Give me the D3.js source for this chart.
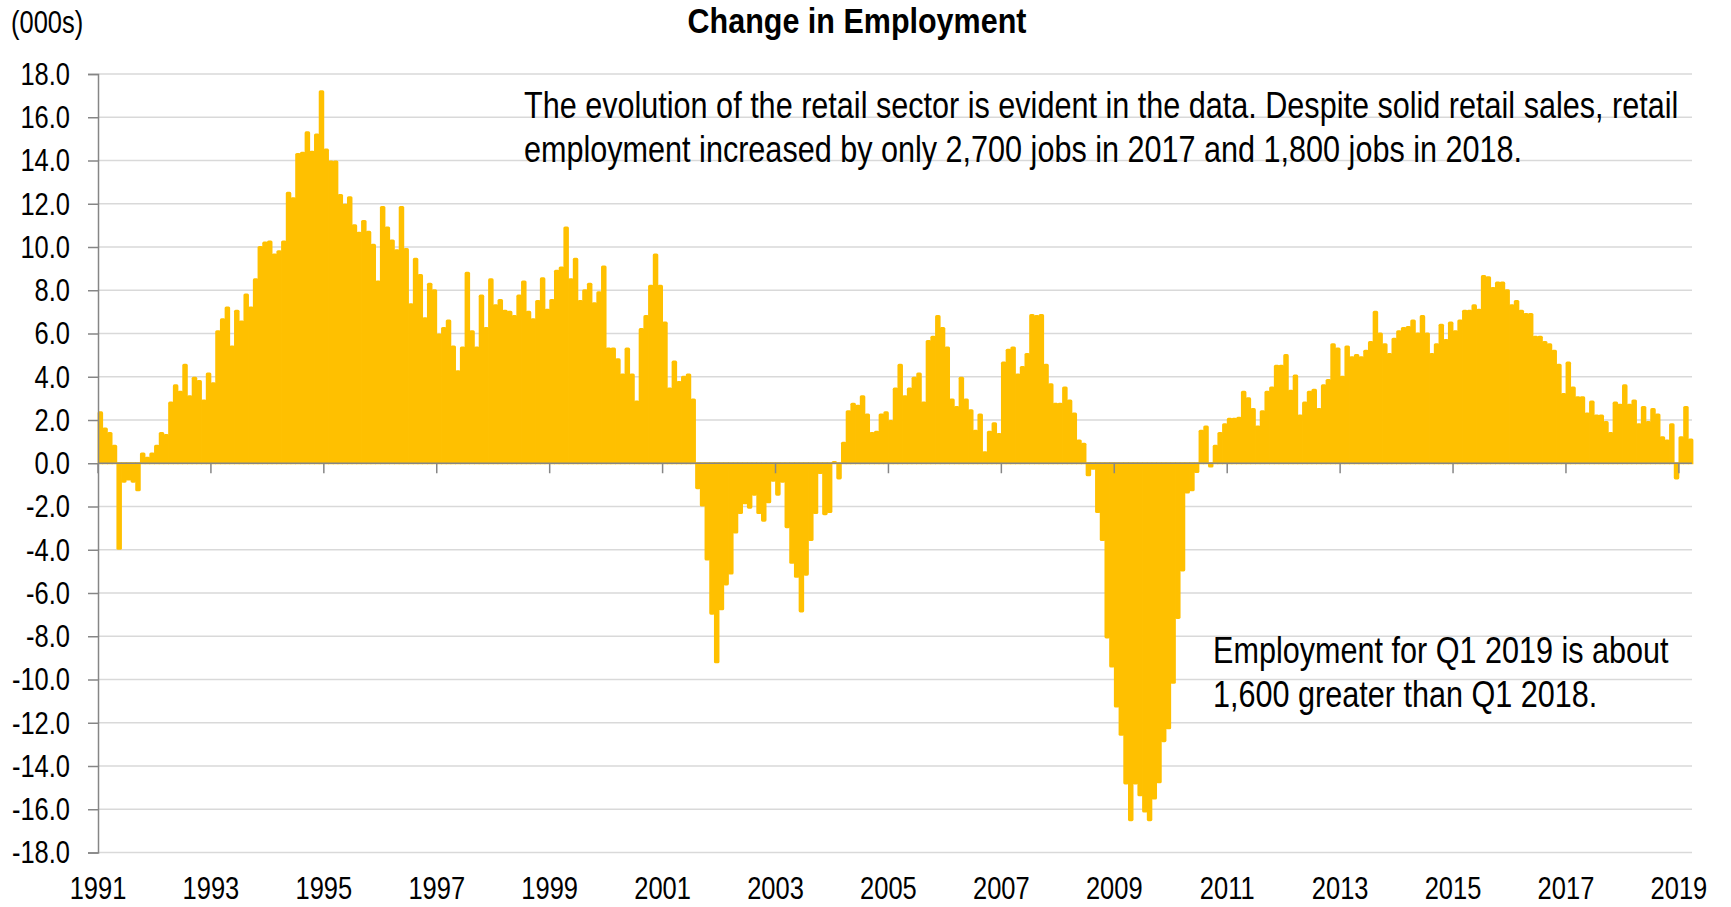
<!DOCTYPE html>
<html>
<head>
<meta charset="utf-8">
<script src="https://cdn.jsdelivr.net/npm/d3@7"></script>
<style>
  html, body { margin: 0; padding: 0; background: #ffffff; }
  svg { display: block; font-family: "Liberation Sans", Arial, Helvetica, sans-serif; }
</style>
</head>
<body>
<svg id="chart" width="1731" height="907"></svg>
<script>
// Monthly change in retail employment (thousands), Jan 1991 - Mar 2019
const change1991to1994 = [
  2.4, 1.65, 1.45, 0.85, -4.0, -0.9, -0.8, -0.9, -1.3, 0.5, 0.3, 0.5,
  0.85, 1.45, 1.35, 2.85, 3.65, 3.35, 4.6, 3.15, 4.0, 3.85, 2.95, 4.2,
  3.75, 6.15, 6.7, 7.25, 5.45, 7.1, 6.6, 7.85, 7.25, 8.55, 10.05, 10.25,
  10.3, 9.7, 9.85, 10.3, 12.55, 12.3, 14.35, 14.4, 15.35, 14.45, 15.25, 17.25
];
const change1995to1998 = [
  14.55, 14.0, 14.0, 12.45, 12.0, 12.35, 11.05, 10.7, 11.25, 10.75, 10.15, 8.45,
  11.9, 10.95, 10.35, 9.9, 11.9, 9.95, 7.4, 9.5, 8.75, 6.75, 8.35, 8.05,
  6.0, 6.3, 6.65, 5.45, 4.3, 5.4, 8.85, 6.15, 5.4, 7.8, 6.3, 8.55,
  7.35, 7.6, 7.1, 7.05, 6.85, 7.8, 8.45, 7.05, 6.7, 7.55, 8.6, 7.15
];
const change1999to2002 = [
  7.6, 8.95, 9.1, 10.95, 8.55, 9.5, 7.55, 8.05, 8.35, 7.45, 7.95, 9.15,
  5.35, 5.35, 4.85, 4.15, 5.35, 4.15, 2.9, 6.25, 6.85, 8.25, 9.7, 8.25,
  6.55, 3.5, 4.75, 3.8, 4.05, 4.15, 3.0, -1.2, -2.0, -4.5, -7.0, -9.25,
  -6.8, -5.65, -5.15, -3.25, -2.35, -1.9, -2.1, -1.5, -2.35, -2.7, -1.85, -0.85
];
const change2003to2006 = [
  -1.5, -0.9, -3.0, -4.65, -5.3, -6.9, -5.2, -3.6, -2.35, -0.5, -2.4, -2.3,
  0.1, -0.75, 1.0, 2.45, 2.8, 2.7, 3.15, 2.3, 1.45, 1.5, 2.3, 2.4,
  2.0, 3.5, 4.6, 3.15, 3.5, 4.0, 4.2, 2.85, 5.7, 5.9, 6.85, 6.3,
  5.4, 3.0, 2.65, 4.0, 3.0, 2.5, 1.55, 2.3, 0.55, 1.5, 1.9, 1.4
];
const change2007to2010 = [
  4.7, 5.3, 5.4, 4.15, 4.5, 5.1, 6.9, 6.85, 6.9, 4.6, 3.7, 2.8,
  2.8, 3.55, 2.95, 2.35, 1.1, 0.95, -0.6, -0.3, -2.3, -3.6, -8.1, -9.45,
  -11.3, -12.6, -14.85, -16.55, -14.85, -15.4, -16.15, -16.55, -15.55, -14.8, -12.9, -12.3,
  -10.2, -7.2, -5.0, -1.4, -1.3, -0.45, 1.55, 1.75, -0.2, 0.85, 1.45, 1.85
];
const change2011to2014 = [
  2.1, 2.1, 2.15, 3.35, 3.05, 2.55, 1.75, 2.45, 3.35, 3.55, 4.55, 4.55,
  5.05, 3.4, 4.1, 2.25, 2.85, 3.35, 3.45, 2.55, 3.65, 3.9, 5.55, 5.35,
  4.05, 5.45, 4.95, 5.05, 4.95, 5.25, 5.65, 7.05, 6.05, 5.55, 5.1, 5.8,
  6.15, 6.3, 6.35, 6.65, 6.05, 6.85, 6.05, 5.1, 5.55, 6.45, 5.75, 6.55
];
const change2015to2019 = [
  6.15, 6.65, 7.1, 7.1, 7.35, 7.15, 8.7, 8.65, 8.15, 8.4, 8.4, 8.05,
  7.35, 7.55, 7.1, 6.95, 6.95, 5.9, 5.9, 5.65, 5.55, 5.25, 4.6, 3.25,
  4.7, 3.55, 3.1, 3.1, 2.35, 2.9, 2.25, 2.25, 1.95, 1.45, 2.85, 2.75,
  3.65, 2.75, 2.95, 1.85, 2.65, 1.95, 2.55, 2.3, 1.25, 1.1, 1.85, -0.75,
  1.25, 2.65, 1.15
];

// Axis labels
const yearLabels = ["1991", "1993", "1995", "1997", "1999", "2001", "2003", "2005",
                    "2007", "2009", "2011", "2013", "2015", "2017", "2019"];
const valueTicks = [-18, -16, -14, -12, -10, -8, -6, -4, -2, 0, 2, 4, 6, 8, 10, 12, 14, 16, 18];

// Text
const chartTitle = "Change in Employment";
const unitLabel = "(000s)";
const noteTop = [
  "The evolution of the retail sector is evident in the data. Despite solid retail sales, retail",
  "employment increased by only 2,700 jobs in 2017 and 1,800 jobs in 2018."
];
const noteBottom = [
  "Employment for Q1 2019 is about",
  "1,600 greater than Q1 2018."
];

const monthly = [].concat(change1991to1994, change1995to1998, change1999to2002,
  change2003to2006, change2007to2010, change2011to2014, change2015to2019);

const svg = d3.select("#chart");
const plotLeft = 98, plotRight = 1693, plotTop = 74, plotBottom = 852.5;
const barColor = "#FFC000";
const gridColor = "#d9d9d9";
const axisColor = "#868686";
const stretch = 1.2;   // condensed face: glyphs taller than they are wide

const x = d3.scaleLinear().domain([0, monthly.length]).range([plotLeft, plotRight]);
const y = d3.scaleLinear().domain([-18, 18]).range([plotBottom, plotTop]);

// Places a text with its baseline at (tx, ty), stretched vertically
function label(sel, tx, ty, k = stretch) {
  return sel.attr("transform", `translate(${tx},${ty}) scale(1,${k})`);
}

// Horizontal gridlines
svg.append("g")
  .selectAll("line")
  .data(valueTicks)
  .join("line")
  .attr("x1", plotLeft).attr("x2", plotRight - 1)
  .attr("y1", d => y(d)).attr("y2", d => y(d))
  .attr("stroke", gridColor)
  .attr("stroke-width", 1.5);

// Monthly bars, slightly rounded at the value end, overlapping a hair to avoid seams
const r = 1.6, ov = 0.4;
function barPath(d, i) {
  const x0 = x(i) - ov, x1 = x(i + 1) + ov;
  const y0 = y(0) + (d >= 0 ? 1 : -1), yv = y(d);
  const s = d >= 0 ? 1 : -1;
  const rr = Math.min(r, Math.abs(yv - y0) / 2);
  return `M${x0},${y0} L${x0},${yv + s * rr} Q${x0},${yv} ${x0 + rr},${yv} ` +
         `L${x1 - rr},${yv} Q${x1},${yv} ${x1},${yv + s * rr} L${x1},${y0} Z`;
}
svg.append("g")
  .selectAll("path")
  .data(monthly)
  .join("path")
  .attr("d", barPath)
  .attr("fill", barColor);

// Value axis line and ticks
const yAxis = d3.axisLeft(y)
  .tickValues(valueTicks)
  .tickFormat("")
  .tickSize(10);
const yg = svg.append("g")
  .attr("transform", `translate(${plotLeft},0)`)
  .call(yAxis);
yg.select(".domain").attr("stroke", axisColor).attr("stroke-width", 1.5);
yg.selectAll(".tick line").attr("stroke", axisColor).attr("stroke-width", 1.5);

// Value tick labels
const tickSize = 25.5;
svg.append("g")
  .selectAll("text")
  .data(valueTicks)
  .join("text")
  .each(function (d) {
    label(d3.select(this), 70, y(d) + 0.716 * tickSize * stretch / 2);
  })
  .attr("text-anchor", "end")
  .attr("font-size", tickSize)
  .attr("fill", "#000")
  .text(d => d.toFixed(1));

// Category axis along zero with year ticks every two years
const yearIndex = yearLabels.map((lab, k) => k * 24);
svg.append("line")
  .attr("x1", plotLeft).attr("x2", plotRight - 1)
  .attr("y1", y(0)).attr("y2", y(0))
  .attr("stroke", axisColor).attr("stroke-width", 1.5);
svg.append("g")
  .selectAll("line")
  .data(yearIndex)
  .join("line")
  .attr("x1", d => x(d)).attr("x2", d => x(d))
  .attr("y1", y(0)).attr("y2", y(0) + 10)
  .attr("stroke", axisColor).attr("stroke-width", 1.5);

// Year labels below the plot
svg.append("g")
  .selectAll("text")
  .data(yearLabels)
  .join("text")
  .each(function (d, k) { label(d3.select(this), x(yearIndex[k]), 899); })
  .attr("text-anchor", "middle")
  .attr("font-size", tickSize)
  .attr("fill", "#000")
  .text(d => d);

// Title and unit label
label(svg.append("text"), 857, 33, 1.15)
  .attr("text-anchor", "middle")
  .attr("font-size", 30.5)
  .attr("font-weight", "bold")
  .attr("fill", "#000")
  .text(chartTitle);
label(svg.append("text"), 11, 33)
  .attr("font-size", tickSize)
  .attr("fill", "#000")
  .text(unitLabel);

// Annotations
svg.append("g")
  .selectAll("text")
  .data(noteTop)
  .join("text")
  .each(function (d, k) { label(d3.select(this), 524, 118 + k * 44); })
  .attr("font-size", 30.6)
  .attr("fill", "#000")
  .text(d => d);
svg.append("g")
  .selectAll("text")
  .data(noteBottom)
  .join("text")
  .each(function (d, k) { label(d3.select(this), 1213, 663 + k * 44); })
  .attr("font-size", 30.6)
  .attr("fill", "#000")
  .text(d => d);
</script>
</body>
</html>
